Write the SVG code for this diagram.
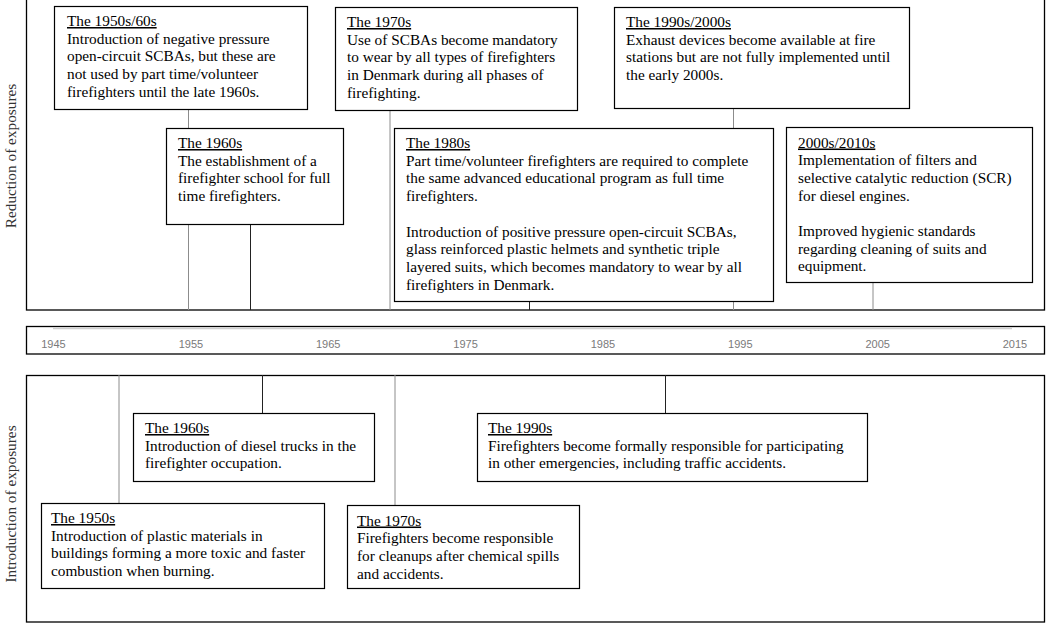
<svg xmlns="http://www.w3.org/2000/svg" width="1047" height="623" viewBox="0 0 1047 623">
<style>
.panel{fill:none;stroke:#000;stroke-width:1.3}
.box{fill:#fff;stroke:#000;stroke-width:1.2}
.t{font-family:"Liberation Serif","Times New Roman",serif;font-size:15.3px;fill:#000}
.h{text-decoration:underline}
.side{font-family:"Liberation Serif","Times New Roman",serif;font-size:15.3px;fill:#333;text-anchor:middle}
.yr{font-family:"Liberation Sans",Arial,sans-serif;font-size:11px;fill:#7a7a7a;text-anchor:middle}
.c{stroke:#8c8c8c;stroke-width:1;fill:none}
.k{stroke:#222;stroke-width:1;fill:none}
</style>
<rect width="1047" height="623" fill="#fff"/>

<g id="panels">
<rect class="panel" x="26.5" y="-2" width="1018" height="312"/>
<rect class="panel" x="26.5" y="326.5" width="1018" height="27.5"/>
<rect class="panel" x="26.5" y="375.5" width="1018" height="246.5"/>
<text class="side" transform="translate(16,156) rotate(-90)">Reduction of exposures</text>
<text class="side" transform="translate(16,504) rotate(-90)">Introduction of exposures</text>
</g>

<g id="axis">
<line x1="53" y1="328.5" x2="1012" y2="328.5" stroke="#cfcfcf" stroke-width="1.5"/>
<text class="yr" x="53.5" y="348">1945</text>
<text class="yr" x="190.9" y="348">1955</text>
<text class="yr" x="328.2" y="348">1965</text>
<text class="yr" x="465.6" y="348">1975</text>
<text class="yr" x="603" y="348">1985</text>
<text class="yr" x="740.3" y="348">1995</text>
<text class="yr" x="877.7" y="348">2005</text>
<text class="yr" x="1015" y="348">2015</text>
</g>

<g id="connectors">
<line class="c" x1="188.5" y1="109" x2="188.5" y2="310"/>
<line class="k" x1="250.5" y1="224" x2="250.5" y2="310"/>
<line class="c" x1="390" y1="110" x2="390" y2="310"/>
<line class="k" x1="529.5" y1="301" x2="529.5" y2="310"/>
<line class="c" x1="733.5" y1="108" x2="733.5" y2="310"/>
<line class="c" x1="873" y1="282" x2="873" y2="310"/>
<line class="c" x1="119" y1="375" x2="119" y2="503"/>
<line class="k" x1="262.5" y1="375" x2="262.5" y2="413"/>
<line class="c" x1="395" y1="375" x2="395" y2="505"/>
<line class="k" x1="665.5" y1="375" x2="665.5" y2="413"/>
</g>

<g id="r1950s60s">
<rect class="box" x="54.5" y="6.5" width="253" height="103"/>
<text class="t" x="67" y="26"><tspan class="h">The 1950s/60s</tspan><tspan x="67" dy="17.7">Introduction of negative pressure</tspan><tspan x="67" dy="17.7">open-circuit SCBAs, but these are</tspan><tspan x="67" dy="17.7">not used by part time/volunteer</tspan><tspan x="67" dy="17.7">firefighters until the late 1960s.</tspan></text>
</g>

<g id="r1960s">
<rect class="box" x="166.5" y="128.5" width="177" height="96"/>
<text class="t" x="178" y="148"><tspan class="h">The 1960s</tspan><tspan x="178" dy="17.7">The establishment of a</tspan><tspan x="178" dy="17.7">firefighter school for full</tspan><tspan x="178" dy="17.7">time firefighters.</tspan></text>
</g>

<g id="r1970s">
<rect class="box" x="335.5" y="7.5" width="242" height="103"/>
<text class="t" x="347" y="27"><tspan class="h">The 1970s</tspan><tspan x="347" dy="17.7">Use of SCBAs become mandatory</tspan><tspan x="347" dy="17.7">to wear by all types of firefighters</tspan><tspan x="347" dy="17.7">in Denmark during all phases of</tspan><tspan x="347" dy="17.7">firefighting.</tspan></text>
</g>

<g id="r1990s2000s">
<rect class="box" x="614.5" y="7.5" width="295" height="101"/>
<text class="t" x="626" y="27"><tspan class="h">The 1990s/2000s</tspan><tspan x="626" dy="17.7">Exhaust devices become available at fire</tspan><tspan x="626" dy="17.7">stations but are not fully implemented until</tspan><tspan x="626" dy="17.7">the early 2000s.</tspan></text>
</g>

<g id="r1980s">
<rect class="box" x="394.5" y="128.5" width="379" height="173"/>
<text class="t" x="406" y="148"><tspan class="h">The 1980s</tspan><tspan x="406" dy="17.7">Part time/volunteer firefighters are required to complete</tspan><tspan x="406" dy="17.7">the same advanced educational program as full time</tspan><tspan x="406" dy="17.7">firefighters.</tspan><tspan x="406" dy="35.4">Introduction of positive pressure open-circuit SCBAs,</tspan><tspan x="406" dy="17.7">glass reinforced plastic helmets and synthetic triple</tspan><tspan x="406" dy="17.7">layered suits, which becomes mandatory to wear by all</tspan><tspan x="406" dy="17.7">firefighters in Denmark.</tspan></text>
</g>

<g id="r2000s2010s">
<rect class="box" x="786.5" y="127.5" width="246" height="155"/>
<text class="t" x="798" y="147.5"><tspan class="h">2000s/2010s</tspan><tspan x="798" dy="17.7">Implementation of filters and</tspan><tspan x="798" dy="17.7">selective catalytic reduction (SCR)</tspan><tspan x="798" dy="17.7">for diesel engines.</tspan><tspan x="798" dy="35.4">Improved hygienic standards</tspan><tspan x="798" dy="17.7">regarding cleaning of suits and</tspan><tspan x="798" dy="17.7">equipment.</tspan></text>
</g>

<g id="i1960s">
<rect class="box" x="133.5" y="413.5" width="241" height="68"/>
<text class="t" x="145" y="433"><tspan class="h">The 1960s</tspan><tspan x="145" dy="17.7">Introduction of diesel trucks in the</tspan><tspan x="145" dy="17.7">firefighter occupation.</tspan></text>
</g>

<g id="i1950s">
<rect class="box" x="41.5" y="503.5" width="283" height="85"/>
<text class="t" x="51" y="523"><tspan class="h">The 1950s</tspan><tspan x="51" dy="17.7">Introduction of plastic materials in</tspan><tspan x="51" dy="17.7">buildings forming a more toxic and faster</tspan><tspan x="51" dy="17.7">combustion when burning.</tspan></text>
</g>

<g id="i1970s">
<rect class="box" x="347.5" y="505.5" width="232" height="83"/>
<text class="t" x="357" y="525.5"><tspan class="h">The 1970s</tspan><tspan x="357" dy="17.7">Firefighters become responsible</tspan><tspan x="357" dy="17.7">for cleanups after chemical spills</tspan><tspan x="357" dy="17.7">and accidents.</tspan></text>
</g>

<g id="i1990s">
<rect class="box" x="477.5" y="413.5" width="390" height="68"/>
<text class="t" x="488" y="433"><tspan class="h">The 1990s</tspan><tspan x="488" dy="17.7">Firefighters become formally responsible for participating</tspan><tspan x="488" dy="17.7">in other emergencies, including traffic accidents.</tspan></text>
</g>
</svg>
